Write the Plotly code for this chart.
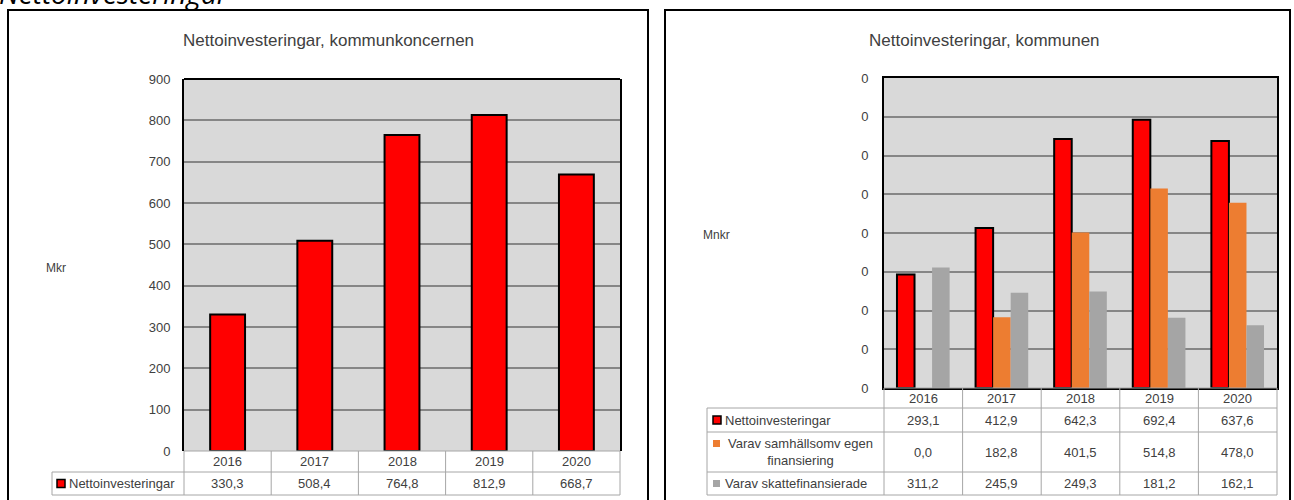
import plotly.graph_objects as go

# ---------------- data ----------------
years = ["2016", "2017", "2018", "2019", "2020"]

koncern_netto = [330.3, 508.4, 764.8, 812.9, 668.7]

kommun_netto = [293.1, 412.9, 642.3, 692.4, 637.6]
kommun_egen = [0.0, 182.8, 401.5, 514.8, 478.0]
kommun_skatt = [311.2, 245.9, 249.3, 181.2, 162.1]

left_ticks = [0, 100, 200, 300, 400, 500, 600, 700, 800, 900]
right_tickvals = [0, 100, 200, 300, 400, 500, 600, 700, 800]
right_ticktext = ["0", "0", "0", "0", "0", "0", "0", "0", "0"]

left_series_name = "Nettoinvesteringar"
right_series_names = ["Nettoinvesteringar", "Varav samhällsomv egen<br>finansiering", "Varav skattefinansierade"]

page_title = "Nettoinvesteringar"
left_title = "Nettoinvesteringar, kommunkoncernen"
right_title = "Nettoinvesteringar, kommunen"
left_unit = "Mkr"
right_unit = "Mnkr"

# ---------------- geometry helpers ----------------
W, H = 1294, 500
def px(x):
    return x / W
def py(y):
    return 1 - y / H

RED = "#ff0000"
ORANGE = "#ed7d31"
GRAY = "#a5a5a5"
TXT = "#404040"
GRID = "#868686"
TBL = "#a6a6a6"
FONT = "Liberation Sans, Arial, sans-serif"

def fmt(v):
    return f"{v:.1f}".replace(".", ",")

# plot areas (pixels)
LX0, LX1, LY0, LY1 = 184, 620, 79, 451
RX0, RX1, RY0, RY1 = 884, 1277, 78, 388

fig = go.Figure()

fig.add_trace(go.Bar(x=years, y=koncern_netto, name=left_series_name, width=0.4,
                     marker=dict(color=RED, line=dict(color="black", width=2)),
                     xaxis="x", yaxis="y", showlegend=False))

right_colors = [RED, ORANGE, GRAY]
right_data = [kommun_netto, kommun_egen, kommun_skatt]
for i, (vals, col) in enumerate(zip(right_data, right_colors)):
    fig.add_trace(go.Bar(x=years, y=vals, name=right_series_names[i].replace("<br>", " "),
                         marker=dict(color=col, line=dict(color="black", width=2 if i == 0 else 0)),
                         xaxis="x2", yaxis="y2", showlegend=False))

axis_font = dict(family=FONT, size=13, color=TXT)

fig.update_layout(
    width=W, height=H,
    showlegend=False,
    margin=dict(l=0, r=0, t=0, b=0, pad=0, autoexpand=False),
    paper_bgcolor="white",
    plot_bgcolor="#d9d9d9",
    barmode="group",
    bargap=0.33,
    bargroupgap=0,
    xaxis=dict(domain=[px(LX0), px(LX1)], anchor="y", showticklabels=False, showgrid=False,
               showline=False, zeroline=False, range=[-0.5, 4.5], automargin=False),
    yaxis=dict(domain=[py(LY1), py(LY0)], anchor="x", range=[0, 900], tickvals=left_ticks,
               showgrid=True, gridcolor=GRID, gridwidth=1.5, zeroline=False,
               showline=True, mirror=True, linecolor="black", linewidth=2, automargin=False,
               tickfont=axis_font, ticks="", ticklabelstandoff=9),
    xaxis2=dict(domain=[px(RX0), px(RX1)], anchor="y2", showticklabels=False, showgrid=False,
                showline=True, mirror=True, linecolor="black", linewidth=2, automargin=False,
                zeroline=False, range=[-0.5, 4.5]),
    yaxis2=dict(domain=[py(RY1), py(RY0)], anchor="x2", range=[0, 800], tickvals=right_tickvals,
                ticktext=right_ticktext, showgrid=True, gridcolor=GRID, gridwidth=1.5, zeroline=False,
                showline=True, mirror=True, linecolor="black", linewidth=2, automargin=False,
                tickfont=axis_font, ticks="", ticklabelstandoff=11),
)

shapes = []
annots = []

# outer frames
shapes.append(dict(type="rect", xref="paper", yref="paper", x0=px(8), x1=px(648), y0=py(510), y1=py(10),
                   line=dict(color="black", width=2), fillcolor="rgba(0,0,0,0)"))
shapes.append(dict(type="rect", xref="paper", yref="paper", x0=px(665), x1=px(1290), y0=py(510), y1=py(10),
                   line=dict(color="black", width=2), fillcolor="rgba(0,0,0,0)"))
# left plot top border
shapes.append(dict(type="line", xref="paper", yref="paper", x0=px(LX0), x1=px(LX1), y0=py(LY0), y1=py(LY0),
                   line=dict(color="black", width=2)))

# page title (cut off at top)
annots.append(dict(text="<i>" + page_title + "</i>", xref="paper", yref="paper", x=px(-3), y=py(14),
                   xanchor="left", yanchor="bottom", showarrow=False,
                   font=dict(family="Open Sans, sans-serif", size=28, color="black")))

# chart titles
annots.append(dict(text=left_title, xref="paper", yref="paper", x=px(328), y=py(41), xanchor="center",
                   yanchor="middle", showarrow=False, font=dict(family=FONT, size=17, color=TXT)))
annots.append(dict(text=right_title, xref="paper", yref="paper", x=px(984), y=py(41), xanchor="center",
                   yanchor="middle", showarrow=False, font=dict(family=FONT, size=17, color=TXT)))
# units
annots.append(dict(text=left_unit, xref="paper", yref="paper", x=px(56), y=py(268), xanchor="center",
                   yanchor="middle", showarrow=False, font=dict(family=FONT, size=12, color=TXT)))
annots.append(dict(text=right_unit, xref="paper", yref="paper", x=px(716), y=py(235), xanchor="center",
                   yanchor="middle", showarrow=False, font=dict(family=FONT, size=12, color=TXT)))

cell_font = dict(family=FONT, size=13, color=TXT)
n = len(years)

def hline(xd, x0, x1, y):
    shapes.append(dict(type="line", xref=xd, yref="paper", x0=x0, x1=x1, y0=py(y), y1=py(y),
                       line=dict(color=TBL, width=1)))

def vline(xd, x, y0, y1):
    shapes.append(dict(type="line", xref=xd, yref="paper", x0=x, x1=x, y0=py(y0), y1=py(y1),
                       line=dict(color=TBL, width=1)))

# ---------- left data table ----------
l_lab = (52 - LX0) / (LX1 - LX0)
l_rows = [451, 472, 495]
hline("x domain", 0, 1, l_rows[0])
for y in l_rows[1:]:
    hline("x domain", l_lab, 1, y)
for i in range(n + 1):
    vline("x domain", i / n, l_rows[0], l_rows[-1])
vline("x domain", l_lab, l_rows[1], l_rows[-1])
for i, yr in enumerate(years):
    annots.append(dict(text=yr, xref="x", yref="paper", x=i, y=py((l_rows[0] + l_rows[1]) / 2),
                       showarrow=False, font=cell_font, xanchor="center", yanchor="middle"))
    annots.append(dict(text=fmt(koncern_netto[i]), xref="x", yref="paper", x=i,
                       y=py((l_rows[1] + l_rows[2]) / 2), showarrow=False, font=cell_font,
                       xanchor="center", yanchor="middle"))
shapes.append(dict(type="rect", xref="paper", yref="paper", x0=px(57), x1=px(65), y0=py(487.5), y1=py(479.5),
                   fillcolor=RED, line=dict(color="black", width=1.5)))
annots.append(dict(text=left_series_name, xref="paper", yref="paper", x=px(67), y=py((l_rows[1] + l_rows[2]) / 2),
                   showarrow=False, font=cell_font, xanchor="left", yanchor="middle"))

# ---------- right data table ----------
r_lab = (707 - RX0) / (RX1 - RX0)
r_rows = [388, 408, 432, 472, 495]
hline("x2 domain", 0, 1, r_rows[0])
for y in r_rows[1:]:
    hline("x2 domain", r_lab, 1, y)
for i in range(n + 1):
    vline("x2 domain", i / n, r_rows[0], r_rows[-1])
vline("x2 domain", r_lab, r_rows[1], r_rows[-1])
for i, yr in enumerate(years):
    annots.append(dict(text=yr, xref="x2", yref="paper", x=i, y=py((r_rows[0] + r_rows[1]) / 2),
                       showarrow=False, font=cell_font, xanchor="center", yanchor="middle"))
    for k, vals in enumerate(right_data):
        annots.append(dict(text=fmt(vals[i]), xref="x2", yref="paper", x=i,
                           y=py((r_rows[k + 1] + r_rows[k + 2]) / 2), showarrow=False, font=cell_font,
                           xanchor="center", yanchor="middle"))

# legend keys
shapes.append(dict(type="rect", xref="paper", yref="paper", x0=px(713), x1=px(721), y0=py(424), y1=py(416),
                   fillcolor=RED, line=dict(color="black", width=1.5)))
shapes.append(dict(type="rect", xref="paper", yref="paper", x0=px(713), x1=px(720), y0=py(447), y1=py(440),
                   fillcolor=ORANGE, line=dict(width=0)))
shapes.append(dict(type="rect", xref="paper", yref="paper", x0=px(713), x1=px(720), y0=py(487), y1=py(480),
                   fillcolor=GRAY, line=dict(width=0)))
annots.append(dict(text=right_series_names[0], xref="paper", yref="paper", x=px(723),
                   y=py((r_rows[1] + r_rows[2]) / 2), showarrow=False, font=cell_font,
                   xanchor="left", yanchor="middle"))
annots.append(dict(text=right_series_names[1], xref="paper", yref="paper", x=px(800),
                   y=py((r_rows[2] + r_rows[3]) / 2), showarrow=False, font=cell_font,
                   xanchor="center", yanchor="middle", align="center"))
annots.append(dict(text=right_series_names[2], xref="paper", yref="paper", x=px(723),
                   y=py((r_rows[3] + r_rows[4]) / 2), showarrow=False, font=cell_font,
                   xanchor="left", yanchor="middle"))

fig.update_layout(shapes=shapes, annotations=annots)
fig.write_html("out.html", config={"displayModeBar": False},
               post_script="document.body.style.margin='0px';")
